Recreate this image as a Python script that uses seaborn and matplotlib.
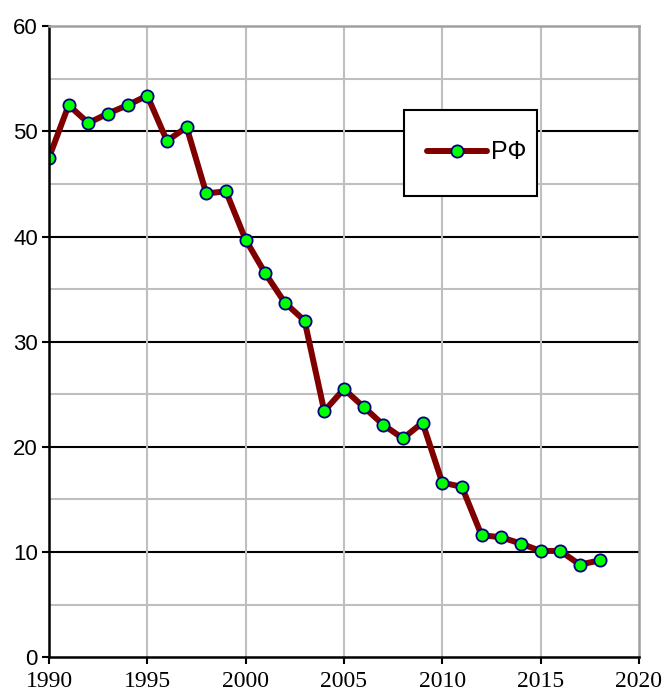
import numpy as np
import pandas as pd
import matplotlib.pyplot as plt
import seaborn as sns
from matplotlib.patches import Rectangle

# Data
years = list(range(1990, 2019))
values = [47.5, 52.5, 50.8, 51.7, 52.5, 53.4, 49.1, 50.4, 44.1, 44.3,
          39.7, 36.5, 33.7, 32.0, 23.4, 25.5, 23.8, 22.1, 20.8, 22.3,
          16.6, 16.2, 11.6, 11.4, 10.8, 10.1, 10.1, 8.8, 9.2]
series_name = "РФ"

df = pd.DataFrame({"year": years, "value": values})

sns.set_style("white")
plt.rcParams["font.family"] = ["Liberation Sans", "DejaVu Sans"]

fig = plt.figure(figsize=(6.62, 6.91), dpi=100)
ax = fig.add_axes([0.074, 0.049, 0.891, 0.913])

# grid: gray minor/vertical, black major horizontal
for yv in range(5, 60, 10):
    ax.axhline(yv, color="#bfbfbf", lw=1.5, zorder=0)
for yv in range(10, 60, 10):
    ax.axhline(yv, color="black", lw=1.5, zorder=0)
for xv in range(1995, 2020, 5):
    ax.axvline(xv, color="#bfbfbf", lw=1.5, zorder=0)

sns.lineplot(data=df, x="year", y="value", ax=ax, color="#800000", linewidth=4.3,
             marker="o", markersize=8.8, markerfacecolor="#00ff00",
             markeredgecolor="#000080", markeredgewidth=1.3, label=series_name,
             solid_joinstyle="round", solid_capstyle="round")

ax.set_xlim(1990, 2020)
ax.set_ylim(0, 60)
ax.set_xlabel("")
ax.set_ylabel("")

for side in ["left", "bottom"]:
    ax.spines[side].set_color("black")
    ax.spines[side].set_linewidth(1.8)
for side in ["top", "right"]:
    ax.spines[side].set_color("#a0a0a0")
    ax.spines[side].set_linewidth(1.8)

ax.tick_params(axis="both", direction="out", length=5, width=1.5, color="black",
               labelcolor="black", bottom=True, left=True)
ax.tick_params(axis="x", pad=5)
ax.tick_params(axis="y", pad=3)
ax.set_xticks(range(1990, 2021, 5))
ax.set_xticklabels([str(y) for y in range(1990, 2021, 5)],
                   fontfamily="Liberation Serif", fontsize=17)
ax.set_yticks(range(0, 61, 10))
ax.set_yticklabels([str(v) for v in range(0, 61, 10)],
                   fontfamily="Liberation Sans", fontsize=16)

# legend box drawn separately (wide vertical padding like the original)
ax.add_patch(Rectangle((0.602, 0.731), 0.225, 0.137, transform=ax.transAxes,
                       facecolor="white", edgecolor="black", lw=1.5, zorder=4))
leg = ax.legend(loc="center left", bbox_to_anchor=(0.641, 0.800), frameon=False,
                prop={"family": "Liberation Sans", "size": 18},
                handlelength=2.4, handletextpad=0.15, borderpad=0,
                borderaxespad=0, labelcolor="black")
leg.set_zorder(5)

fig.savefig("out.png", dpi=100)
